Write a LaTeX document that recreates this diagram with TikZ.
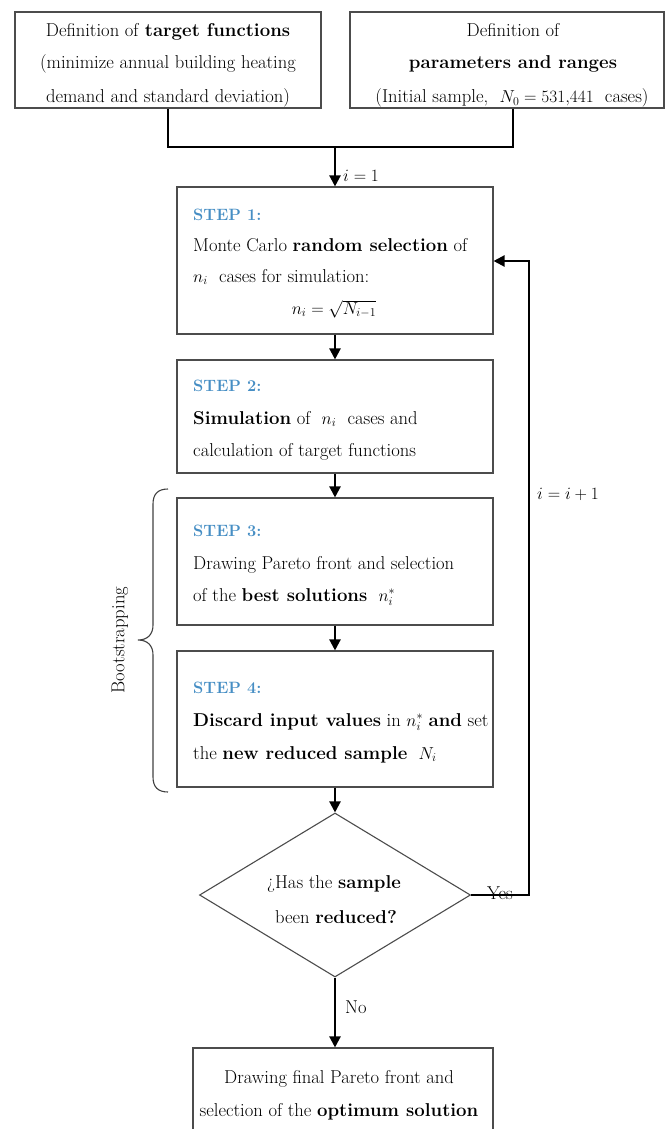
\documentclass[tikz,border=0pt]{standalone}
\usetikzlibrary{arrows.meta,shapes.geometric}
\definecolor{stepblue}{RGB}{70,142,196}
\newcommand\dfs{\fontsize{18.6}{22}\selectfont}
\newcommand\sfs{\fontsize{16.4}{19}\selectfont}
\begin{document}
\begin{tikzpicture}[x=1pt,y=-1pt,
  box/.style={draw=black!70,line width=1.1pt,inner sep=0pt,rectangle},
  conn/.style={line width=2.2pt,black},
  arr/.style={conn,-{Triangle[length=11pt,width=11pt]}},
  txt/.style={inner sep=0pt,anchor=base,font=\dfs},
  ltxt/.style={inner sep=0pt,anchor=base west,font=\dfs},
  stp/.style={inner sep=0pt,anchor=base west,text=stepblue,font=\sfs\bfseries}]
\useasboundingbox (0,0) rectangle (665,1129);
\clip (0,0) rectangle (665,1129);
% boxes
\node[box,minimum width=306pt,minimum height=96pt] (tl) at (168,60) {};
\node[box,minimum width=314pt,minimum height=96pt] (tr) at (507,60) {};
\node[box,minimum width=316pt,minimum height=147pt] (s1) at (335,260.5) {};
\node[box,minimum width=316pt,minimum height=113pt] (s2) at (335,416.5) {};
\node[box,minimum width=316pt,minimum height=127pt] (s3) at (335,561.5) {};
\node[box,minimum width=316pt,minimum height=136pt] (s4) at (335,719) {};
\node[box,shape=diamond,minimum width=271pt,minimum height=164pt] (dec) at (335,895) {};
\node[box,minimum width=300pt,minimum height=92pt] (fin) at (343,1094) {};
% texts
\node[txt] (tla) at (168,36.5) {Definition of \textbf{target functions}};
\node[txt] (tlb) at (168,68.5) {(minimize annual building heating};
\node[txt] (tlc) at (168,102.5) {demand and standard deviation)};
\node[txt] (tra) at (513,36.5) {Definition of};
\node[txt] (trb) at (513,68.5) {\textbf{parameters and ranges}};
\node[txt] (trc) at (512,102.5) {(Initial sample, \ $N_0=531{,}441$\ \ cases)};
\node[stp] (s1a) at (193,220) {STEP 1:};
\node[ltxt] (s1b) at (193,251) {Monte Carlo \textbf{random selection} of};
\node[ltxt] (s1c) at (193,282) {$n_i$\ \ cases for simulation:};
\node[txt] (s1d) at (334,314) {$n_i=\sqrt{N_{i-1}}$};
\node[stp] (s2a) at (193,391) {STEP 2:};
\node[ltxt] (s2b) at (193,424) {\textbf{Simulation} of \ $n_i$\ \ cases and};
\node[ltxt] (s2c) at (193,456) {calculation of target functions};
\node[stp] (s3a) at (193,536) {STEP 3:};
\node[ltxt] (s3b) at (193,569) {Drawing Pareto front and selection};
\node[ltxt] (s3c) at (193,601) {of the \textbf{best solutions}\ \ $n_i^*$};
\node[stp] (s4a) at (193,693) {STEP 4:};
\node[ltxt] (s4b) at (193,726) {\textbf{Discard input values} in $n_i^*$ \textbf{and} set};
\node[ltxt] (s4c) at (193,759) {the \textbf{new reduced sample}\ \ $N_i$};
\node[txt] (da) at (334,888) {¿Has the \textbf{sample}};
\node[txt] (db) at (336,923) {been \textbf{reduced?}};
\node[txt] (fa) at (339,1083) {Drawing final Pareto front and};
\node[txt] (fb) at (339,1116) {selection of the \textbf{optimum solution}};
% labels
\node[ltxt] (l1) at (343,181) {$i=1$};
\node[ltxt] (l2) at (537,499) {$i=i+1$};
\node[ltxt] (yes) at (487,899) {Yes};
\node[ltxt] (no) at (345,1013) {No};
\node[rotate=90,inner sep=0pt,font=\dfs] (bs) at (120,640) {Bootstrapping};
% connectors
\coordinate (mj) at (335,147);
\coordinate (lp) at (529,261);
\draw[conn] (tl.south) |- (mj);
\draw[conn] ([xshift=6pt]tr.south) |- (mj);
\draw[arr] (mj) -- (s1.north);
\draw[arr] (s1.south) -- (s2.north);
\draw[arr] (s2.south) -- (s3.north);
\draw[arr] (s3.south) -- (s4.north);
\draw[arr] (s4.south) -- (dec.north);
\draw[arr] (dec.south) -- (dec.south |- fin.north);
\draw[arr] (dec.east) -| (lp) -- (lp -| s1.east);
% brace
\draw[line width=1.1pt,black!75] (168,489) .. controls (158,489) and (153,494) .. (153,504) -- (153,625) .. controls (153,634) and (148,640) .. (138,640) .. controls (148,640) and (153,646) .. (153,655) -- (153,777) .. controls (153,787) and (158,792) .. (168,792);
\end{tikzpicture}
\end{document}
